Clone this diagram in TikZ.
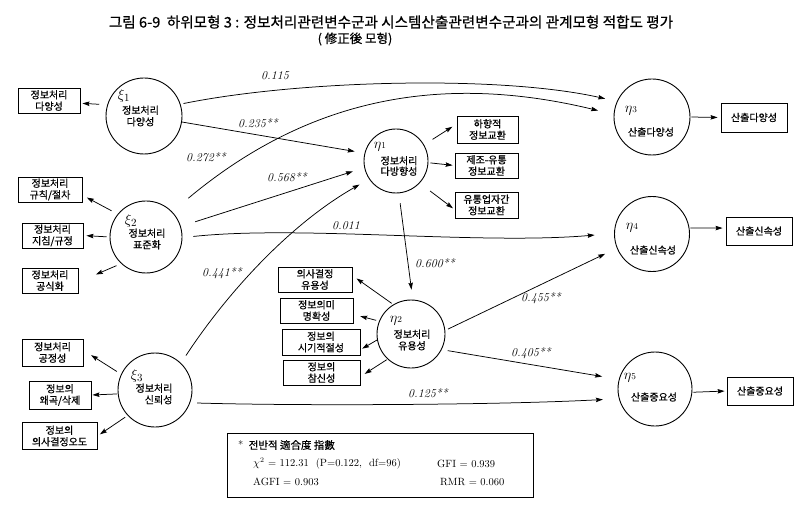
\documentclass[tikz,border=0pt]{standalone}
\usepackage{fontspec}
\newfontfamily\kr[FakeBold=0.6]{Noto Sans CJK KR}
\usetikzlibrary{calc,arrows.meta}
\newcommand\dg[1]{{\fontsize{9}{9}\selectfont #1}}
\begin{document}
\begin{tikzpicture}[x=1pt,y=-1pt,
  lat/.style={draw,circle,line width=0.9pt,inner sep=0pt},
  ind/.style={draw,rectangle,line width=0.9pt,inner sep=0pt,minimum height=25,
              font=\kr\fontsize{10}{11.5}\selectfont,align=center},
  ktext/.style={font=\kr\fontsize{10}{11.5}\selectfont,align=center,inner sep=0pt},
  sym/.style={font=\fontsize{15}{15}\selectfont,inner sep=0pt},
  coef/.style={font=\itshape\fontsize{12}{12}\selectfont,inner sep=0pt},
  fittext/.style={font=\fontsize{10.5}{12}\selectfont,inner sep=0pt,anchor=west},
  arr/.style={-{Stealth[length=7pt,width=4.5pt,inset=1pt]},line width=0.75pt},
]
\fill[white] (0,0) rectangle (810,510);
\useasboundingbox (0,0) rectangle (810,510);

% title
\node[font=\kr\fontsize{14.6}{16}\selectfont,inner sep=0pt] (title1) at (391,22)
  {그림 6-9 \ 하위모형 3 : 정보처리관련변수군과 시스템산출관련변수군과의 관계모형 적합도 평가};
\node[font=\kr\fontsize{12.5}{14}\selectfont,inner sep=0pt] (title2) at (355,39) {( 修正後 모형)};

% latent variables
\node[lat,minimum size=76] (xi1) at (144,116) {};
\node[sym] (xi1s) at (124,96) {$\xi_1$};
\node[ktext] (xi1t) at (140.5,116) {정보처리\\다양성};

\node[lat,minimum size=72] (xi2) at (146,237) {};
\node[sym] (xi2s) at (131,221) {$\xi_2$};
\node[ktext] (xi2t) at (147,239) {정보처리\\표준화};

\node[lat,minimum size=74] (xi3) at (155,390) {};
\node[sym] (xi3s) at (137,376) {$\xi_3$};
\node[ktext,align=right] (xi3t) at (154,394) {정보처리\\신뢰성};

\node[lat,minimum size=64] (eta1) at (396,161) {};
\node[sym] (eta1s) at (380,147) {$\eta$\dg{1}};
\node[ktext,font=\kr\fontsize{10}{10.5}\selectfont] (eta1t) at (399,166) {정보처리\\다방향성};

\node[lat,minimum size=68] (eta2) at (411,334) {};
\node[sym] (eta2s) at (396,321) {$\eta$\dg{2}};
\node[ktext] (eta2t) at (412,340) {정보처리\\유용성};

\node[lat,minimum size=76] (eta3) at (652,117) {};
\node[sym] (eta3s) at (631,111) {$\eta$\dg{3}};
\node[ktext] (eta3t) at (651,132) {산출다양성};

\node[lat,minimum size=75] (eta4) at (652,234) {};
\node[sym] (eta4s) at (632,228) {$\eta$\dg{4}};
\node[ktext] (eta4t) at (653,250) {산출신속성};

\node[lat,minimum size=74] (eta5) at (655,389) {};
\node[sym] (eta5s) at (630,378) {$\eta$\dg{5}};
\node[ktext] (eta5t) at (654,397) {산출중요성};

% indicator boxes (left)
\node[ind,minimum width=62] (b1) at (49,100.5) {정보처리\\다양성};
\node[ind,minimum width=64] (b2) at (50,189.5) {정보처리\\규칙/절차};
\node[ind,minimum width=61] (b3) at (52.5,235.5) {정보처리\\지침/규정};
\node[ind,minimum width=56] (b4) at (50,280.5) {정보처리\\공식화};
\node[ind,minimum width=61,minimum height=27] (b5) at (52.5,352.5) {정보처리\\공정성};
\node[ind,minimum width=62,minimum height=28] (b6) at (60,395) {정보의\\왜곡/삭제};
\node[ind,minimum width=75,minimum height=27] (b7) at (59.5,436) {정보의\\의사결정오도};

% indicator boxes (eta1)
\node[ind,minimum width=61,minimum height=27] (c1) at (487.5,129.5) {하향적\\정보교환};
\node[ind,minimum width=63] (c2) at (486.5,165.5) {제조-유통\\정보교환};
\node[ind,minimum width=63,minimum height=26] (c3) at (486.5,205) {유통업자간\\정보교환};

% indicator boxes (eta2)
\node[ind,minimum width=74] (d1) at (315,279.5) {의사결정\\유용성};
\node[ind,minimum width=73] (d2) at (316.5,310.5) {정보의미\\명확성};
\node[ind,minimum width=78,minimum height=26] (d3) at (321,342) {정보의\\시기적절성};
\node[ind,minimum width=77] (d4) at (321.5,372.5) {정보의\\참신성};

% indicator boxes (right)
\node[ind,minimum width=66,minimum height=29] (e1) at (754,117.5) {산출다양성};
\node[ind,minimum width=66,minimum height=28] (e2) at (759,231) {산출신속성};
\node[ind,minimum width=66,minimum height=28] (e3) at (760,391) {산출중요성};

% structural paths
\draw[arr,shorten <=3pt,shorten >=12pt] (xi1.18) .. controls (300,80) and (500,75) .. (eta3.156);
\draw[arr,shorten <=21pt,shorten >=16pt] (xi2.44) .. controls (300,105) and (430,70) .. (eta3.176);
\draw[arr,shorten >=10pt] (xi1.-9) -- (eta1.166);
\draw[arr,shorten <=15pt,shorten >=12pt] (xi2.17) -- (eta1.192);
\draw[arr,shorten <=9pt,shorten >=11pt] (xi3.46) .. controls (227,293) and (290,224) .. (eta1.214);
\draw[arr,shorten <=11pt,shorten >=19.5pt] (xi2.-1) .. controls (300,225) and (480,245) .. (eta4.179);
\draw[arr,shorten <=10pt,shorten >=10pt] (eta1.-85) -- (eta2.87);
\draw[arr,shorten <=3pt,shorten >=13pt] (eta2.6) -- (eta4.202);
\draw[arr,shorten <=6pt,shorten >=17pt] (eta2.-27) -- (eta5.165);
\draw[arr,shorten <=7pt,shorten >=16pt] (xi3.-20) .. controls (300,406) and (500,405) .. (eta5.195);

% coefficients
\node[coef] (k1) at (275,76) {0.115};
\node[coef] (k2) at (206,157) {0.272**};
\node[coef] (k3) at (258,123) {0.235**};
\node[coef] (k4) at (287,177) {0.568**};
\node[coef] (k5) at (222,273) {0.441**};
\node[coef] (k6) at (346,226) {0.011};
\node[coef] (k7) at (435,263) {0.600**};
\node[coef] (k8) at (541,298) {0.455**};
\node[coef] (k9) at (531,353) {0.405**};
\node[coef] (k10) at (428,393) {0.125**};

% measurement arrows
\draw[arr,shorten <=8pt,shorten >=2pt] (xi1.163) -- (b1.-5);
\draw[arr,shorten <=7pt,shorten >=5pt] (xi2.141) -- (b2.-10);
\draw[arr,shorten <=3pt,shorten >=3pt] (xi2.180) -- (b3.east);
\draw[arr,shorten <=5pt,shorten >=19pt] (xi2.227) -- (b4.-3);
\draw[arr,shorten <=5pt,shorten >=9pt] (xi3.155) -- (b5.4);
\draw[arr,shorten <=1pt,shorten >=1pt] (xi3.186) -- (b6.east);
\draw[arr,shorten <=3pt,shorten >=3pt] (xi3.223) -- (b7.east);

\draw[arr,shorten <=10pt,shorten >=5pt] (eta1.30) -- (c1.170);
\draw[arr,shorten <=2pt,shorten >=2pt] (eta1.-3) -- (c2.west);
\draw[arr,shorten <=13pt,shorten >=2pt] (eta1.-43) -- (c3.188);

\draw[arr,shorten <=2pt,shorten >=5pt] (eta2.121) -- (d1.6);
\draw[arr,shorten <=3pt,shorten >=7pt] (eta2.158) -- (d2.-6);
\draw[arr,shorten >=2pt] (eta2.190) -- (d3.-11);
\draw[arr,shorten <=1pt,shorten >=5pt] (eta2.227) -- (d4.-6);

\draw[arr,shorten <=1pt,shorten >=3pt] (eta3.east) -- (e1.west);
\draw[arr,shorten <=1pt,shorten >=3pt] (eta4.9) -- (e2.175);
\draw[arr,shorten <=1pt,shorten >=2pt] (eta5.-5) -- (e3.west);

% fit index box
\node[draw,line width=0.9pt,minimum width=306,minimum height=64,inner sep=0pt] (fit) at (380,465) {};
\node[fittext] (f1) at (238,445) {*\, {\kr 전반적 適合度 指數}};
\node[fittext] (f2) at (253,464) {$\chi^2$ = 112.31 \ (P=0.122, \ df=96)};
\node[fittext] (f3) at (437,464) {GFI = 0.939};
\node[fittext] (f4) at (253,482) {AGFI = 0.903};
\node[fittext] (f5) at (440,482) {RMR = 0.060};
\end{tikzpicture}
\end{document}
